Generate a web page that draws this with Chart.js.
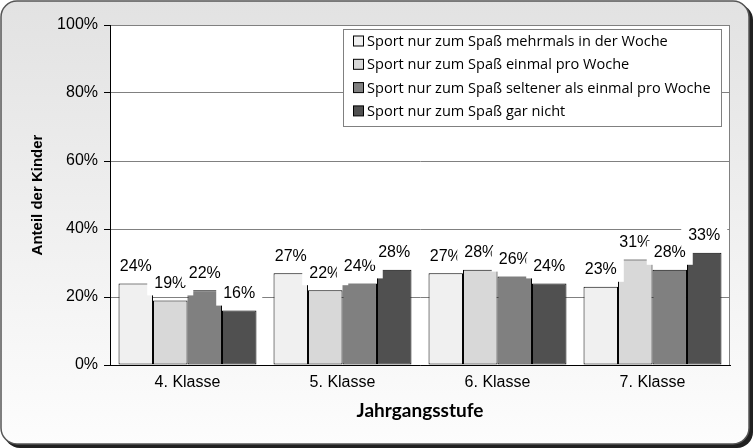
<!DOCTYPE html>
<html>
<head>
<meta charset="utf-8">
<script src="https://cdn.jsdelivr.net/npm/chart.js@4/dist/chart.umd.min.js"></script>
<style>
  html, body { margin: 0; padding: 0; background: #fff; }
  #wrap { width: 753px; height: 448px; }
</style>
</head>
<body>
<div id="wrap"><canvas id="grafico" width="753" height="448"></canvas></div>
<script>
const klassen = ['4. Klasse', '5. Klasse', '6. Klasse', '7. Klasse'];
const serienNamen = [
  'Sport nur zum Spaß mehrmals in der Woche',
  'Sport nur zum Spaß einmal pro Woche',
  'Sport nur zum Spaß seltener als einmal pro Woche',
  'Sport nur zum Spaß gar nicht'
];
const mehrmals = [24, 27, 27, 23];
const einmal = [19, 22, 28, 31];
const seltener = [22, 24, 26, 28];
const garNicht = [16, 28, 24, 33];
const farben = ['#f0f0f0', '#d8d8d8', '#808080', '#505050'];
const yTicks = [0, 20, 40, 60, 80, 100];

const labelFont = '16px "Liberation Sans", Arial, sans-serif';

// Hintergrund mit abgerundetem Rahmen
const hintergrund = {
  id: 'hintergrund',
  beforeDraw(chart) {
    const c = chart.ctx;
    c.save();
    c.fillStyle = '#fff';
    c.fillRect(0, 0, chart.width, chart.height);
    c.beginPath();
    c.roundRect(4, 4, 749, 444, 16);
    c.fillStyle = '#202020';
    c.fill();
    const g = c.createLinearGradient(0, 0, 0, 446);
    g.addColorStop(0, '#e2e2e2');
    g.addColorStop(1, '#fdfdfd');
    c.beginPath();
    c.roundRect(1, 1, 748, 443, 16);
    c.fillStyle = g;
    c.fill();
    c.lineWidth = 1.5;
    c.strokeStyle = '#555';
    c.stroke();
    const a = chart.chartArea;
    c.fillStyle = '#fff';
    c.fillRect(a.left, a.top, a.right - a.left, a.bottom - a.top);
    c.strokeStyle = '#808080';
    c.lineWidth = 1;
    c.beginPath();
    c.moveTo(a.left, a.top + 0.5);
    c.lineTo(a.right - 0.5, a.top + 0.5);
    c.lineTo(a.right - 0.5, a.bottom);
    c.stroke();
    c.restore();
  }
};

// Datenbeschriftungen mit weissem Hintergrund
const beschriftung = {
  id: 'beschriftung',
  afterDatasetsDraw(chart) {
    const c = chart.ctx;
    c.save();
    c.font = labelFont;
    c.textAlign = 'center';
    c.textBaseline = 'middle';
    chart.data.datasets.forEach((ds, i) => {
      chart.getDatasetMeta(i).data.forEach((bar, j) => {
        const txt = ds.data[j] + '%';
        const w = c.measureText(txt).width + 14;
        const cy = bar.y - 17;
        c.fillStyle = '#fff';
        c.fillRect(bar.x - w / 2, cy - 12, w, 24);
        c.fillStyle = '#000';
        c.fillText(txt, bar.x, cy);
      });
    });
    c.restore();
  }
};

// Legende im Diagrammbereich
const legende = {
  id: 'legende',
  afterDraw(chart) {
    const c = chart.ctx;
    c.save();
    const x = 343, y = 29, w = 378, h = 97;
    c.fillStyle = '#fff';
    c.fillRect(x, y, w, h);
    c.strokeStyle = '#808080';
    c.lineWidth = 1;
    c.strokeRect(x + 0.5, y + 0.5, w, h);
    // Schriftgroesse so waehlen, dass der laengste Eintrag passt
    let size = 14;
    c.font = size + 'px "Open Sans", Lato, sans-serif';
    const breit = Math.max(...serienNamen.map(n => c.measureText(n).width));
    size = size * 344 / breit;
    c.font = size.toFixed(2) + 'px "Open Sans", Lato, sans-serif';
    c.textBaseline = 'middle';
    c.textAlign = 'left';
    serienNamen.forEach((name, i) => {
      const cy = 41 + i * 23.3;
      c.fillStyle = farben[i];
      c.fillRect(353.5, cy - 5, 10, 10);
      c.strokeStyle = '#000';
      c.strokeRect(353.5, cy - 5, 10, 10);
      c.fillStyle = '#000';
      c.fillText(name, 367, cy + 1);
    });
    c.restore();
  }
};

const datasets = [mehrmals, einmal, seltener, garNicht].map((werte, i) => ({
  label: serienNamen[i],
  data: werte,
  backgroundColor: farben[i],
  borderColor: '#000',
  borderWidth: 1,
  borderSkipped: false,
  categoryPercentage: 0.89,
  barPercentage: 1.0
}));

const chart = new Chart(document.getElementById('grafico').getContext('2d'), {
  type: 'bar',
  data: { labels: klassen, datasets: datasets },
  options: {
    responsive: false,
    animation: false,
    layout: { padding: { top: 25, right: 23, left: 0, bottom: 0 } },
    plugins: {
      legend: { display: false },
      tooltip: { enabled: false }
    },
    scales: {
      x: {
        grid: { display: false },
        border: { display: true, color: '#000', width: 1 },
        ticks: {
          color: '#000',
          font: { family: '"Liberation Sans", Arial, sans-serif', size: 16 },
          padding: 0
        },
        title: {
          display: true,
          text: 'Jahrgangsstufe',
          color: '#000',
          font: { family: 'Lato, "Noto Sans", sans-serif', size: 19, weight: 'bold' },
          padding: { top: 0, bottom: 26 }
        },
        afterFit(s) { s.height = 83; }
      },
      y: {
        min: 0,
        max: 100,
        afterBuildTicks(s) { s.ticks = yTicks.map(v => ({ value: v })); },
        grid: { color: '#808080', tickColor: '#000', tickLength: 6 },
        border: { display: true, color: '#000', width: 1 },
        ticks: {
          color: '#000',
          font: { family: '"Liberation Sans", Arial, sans-serif', size: 16 },
          padding: 6,
          callback: v => v + '%'
        },
        title: {
          display: true,
          text: 'Anteil der Kinder',
          color: '#000',
          font: { family: '"Liberation Sans", Arial, sans-serif', size: 15, weight: 'bold' },
          padding: { top: 29, bottom: 0 }
        },
        afterFit(s) { s.width = 110; }
      }
    }
  },
  plugins: [hintergrund, beschriftung, legende]
});
</script>
</body>
</html>
